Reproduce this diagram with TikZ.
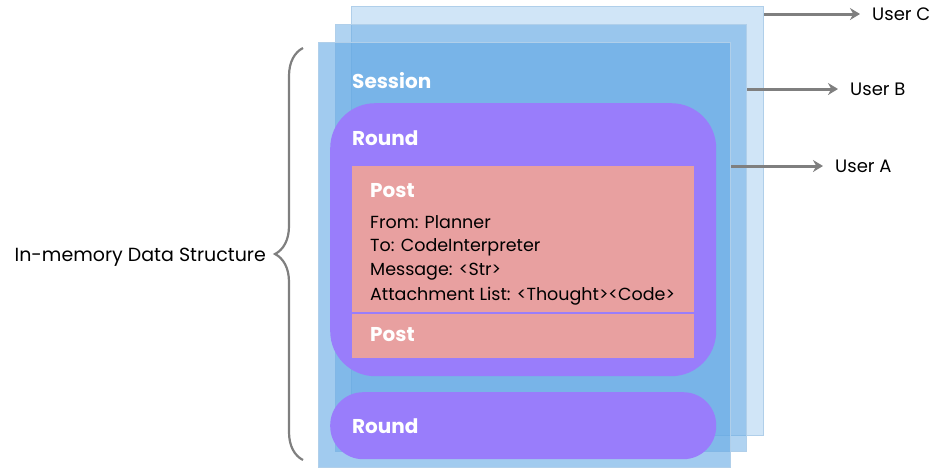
\documentclass[tikz,border=0pt]{standalone}
\usepackage{fontspec}
\setmainfont{Poppins}
\usetikzlibrary{arrows.meta,positioning,decorations.pathreplacing}
\definecolor{userblue}{HTML}{62A8E4}
\definecolor{userline}{HTML}{B0CFEA}
\definecolor{roundpurple}{HTML}{997DFB}
\definecolor{postpink}{HTML}{E8A0A0}
\definecolor{arrowgray}{HTML}{7F7F7F}
\tikzset{
  layer/.style = { draw=userline, line width=1pt, fill=userblue, anchor=north west, inner sep=0pt },
  roundbox/.style = { fill=roundpurple, anchor=north west, inner sep=0pt },
  postbox/.style = { fill=postpink, anchor=north west, inner sep=0pt },
  title/.style = { font=\bfseries\fontsize{20}{22}\selectfont, text=white, anchor=west, inner sep=0pt },
  field/.style = { font=\fontsize{17.5}{20}\selectfont, anchor=west, inner sep=0pt },
  user/.style = { font=\fontsize{18}{20}\selectfont, anchor=west, inner sep=0pt },
  arrow/.style = { line width=3pt, color=arrowgray, -{Stealth[length=10pt,width=12pt]}, shorten >=12pt },
  bracket/.style = { line width=2.2pt, color=arrowgray, decorate, decoration={brace, amplitude=28pt} }
}

\begin{document}
\begin{tikzpicture}[x=1pt, y=-1pt]
  \useasboundingbox (0,0) rectangle (943,467);

  % one layer per user
  \node[layer, fill opacity=0.3, minimum width=412pt, minimum height=429pt] (userC) at (351,6) {};
  \node[layer, fill opacity=0.5, minimum width=411pt, minimum height=427pt] (userB) at (335,24) {};
  \node[layer, fill opacity=0.6, minimum width=412pt, minimum height=425pt] (userA) at (318,42) {};
  \node[title] (session) at (352,81) {Session};

  \node[roundbox, rounded corners=45pt, minimum width=386pt, minimum height=273pt] (round1) at (330,103) {};
  \node[title] (round1title) at (352,138) {Round};
  \node[postbox, minimum width=342pt, minimum height=146pt] (post1) at (352,166) {};
  \node[title] (post1title) at (370,191) {Post};
  \node[field] (from) at (370,222) {From: Planner};
  \node[field] (to) at (370,247) {To: CodeInterpreter};
  \node[field] (msg) at (370,272) {Message: <Str>};
  \node[field] (attach) at (370,296) {Attachment List: <Thought><Code>};
  \node[postbox, minimum width=342pt, minimum height=44pt] (post2) at (352,314) {};
  \node[title] (post2title) at (370,335) {Post};

  \node[roundbox, rounded corners=33pt, minimum width=386pt, minimum height=67pt] (round2) at (330,392) {};
  \node[title] (round2title) at (352,426) {Round};

  \node[user] (labC) at (872,14) {User C};
  \node[user] (labB) at (850,89) {User B};
  \node[user] (labA) at (835,166) {User A};
  \draw [arrow] (userC.east |- labC) -- (labC.west);
  \draw [arrow] (userB.east |- labB) -- (labB.west);
  \draw [arrow] (userA.east |- labA) -- (labA.west);

  \coordinate (braceTop) at (303,48);
  \coordinate (braceBot) at (303,460);
  \draw [bracket] (braceBot) -- (braceTop);
  \node[field, font=\fontsize{19}{22}\selectfont, anchor=east] (memory) at (266,257) {In-memory Data Structure};

\end{tikzpicture}
\end{document}
